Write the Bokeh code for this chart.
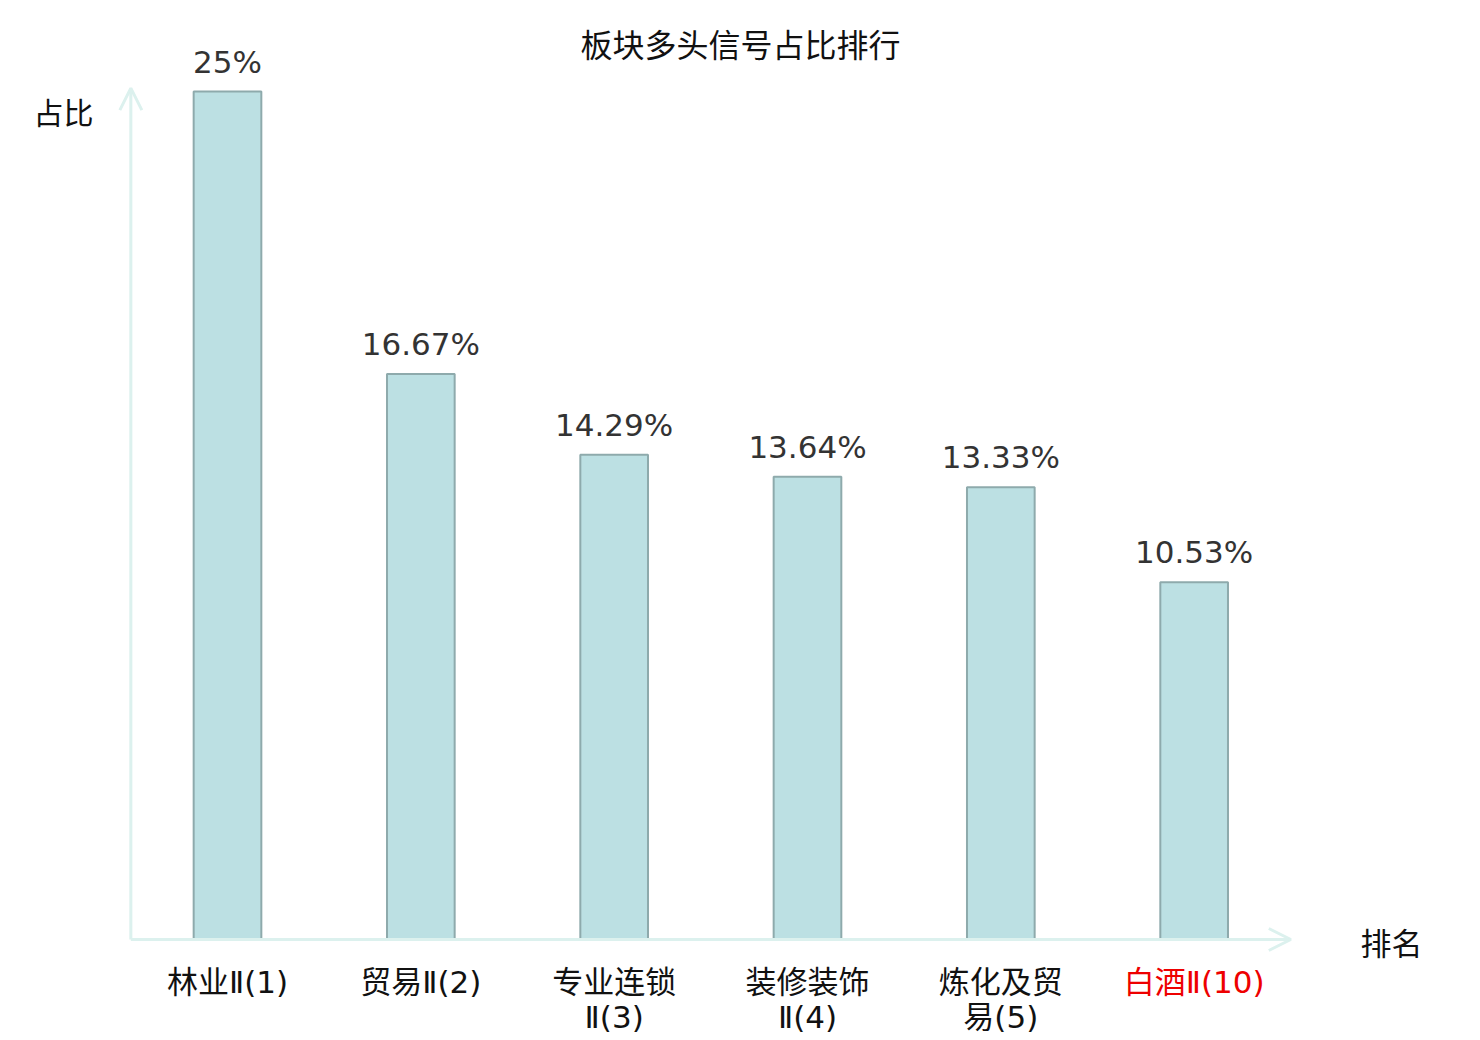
from bokeh.plotting import figure
from bokeh.models import Range1d, Arrow, OpenHead, ColumnDataSource
from bokeh.core.properties import value
from bokeh.embed import file_html
from bokeh.resources import INLINE

# ---- data ----
categories = ["林业Ⅱ(1)", "贸易Ⅱ(2)", "专业连锁\nⅡ(3)", "装修装饰\nⅡ(4)", "炼化及贸\n易(5)", "白酒Ⅱ(10)"]
values = [25.0, 16.67, 14.29, 13.64, 13.33, 10.53]
value_labels = ["25%", "16.67%", "14.29%", "13.64%", "13.33%", "10.53%"]
label_colors = ["#111111", "#111111", "#111111", "#111111", "#111111", "#ee0000"]
title_text = "板块多头信号占比排行"
y_name = "占比"
x_name = "排名"

# ---- layout (pixel geometry of the canvas) ----
W, H = 1480, 1040
px_x = 193.33            # pixels per category
px_y = 33.92             # pixels per percent
cx0, cy0 = 227.0, 939.0  # canvas position of category 0 / value 0
x0 = -cx0 / px_x
x1 = x0 + W / px_x
y1 = cy0 / px_y
y0 = y1 - H / px_y

def dx(px):
    return x0 + px / px_x

def dy(py):
    return y1 - py / px_y

p = figure(width=W, height=H, output_backend="svg", toolbar_location=None,
           x_range=Range1d(x0, x1), y_range=Range1d(y0, y1),
           min_border=0, min_border_left=0, min_border_right=0,
           min_border_top=0, min_border_bottom=0)
p.axis.visible = False
p.grid.visible = False
p.outline_line_color = None
p.background_fill_color = "white"
p.border_fill_color = "white"

idx = list(range(len(categories)))
src = ColumnDataSource(dict(x=idx, top=values, cat=categories, lab=value_labels,
                            col=label_colors,
                            ly=[v + 12.0 / px_y for v in values]))

axis_color = "#dcf1ee"
# axes with arrows
p.add_layout(Arrow(end=OpenHead(size=22, line_color=axis_color, line_width=3),
                   x_start=-0.5, y_start=0, x_end=-0.5, y_end=25.1,
                   line_color=axis_color, line_width=3))
p.add_layout(Arrow(end=OpenHead(size=22, line_color=axis_color, line_width=3),
                   x_start=-0.5, y_start=0, x_end=5.5, y_end=0,
                   line_color=axis_color, line_width=3))

p.vbar(x="x", top="top", bottom=0, width=0.35, source=src,
       fill_color="#bce0e3", line_color="#8eaaac", line_width=2)

# value labels
p.text(x="x", y="ly", text="lab", source=src, text_align="center",
       text_baseline="bottom", text_font=value("DejaVu Sans"),
       text_font_size="31px", text_color="#333333")

# category labels
p.text(x="x", y=dy(963), text="cat", source=src, text_align="center",
       text_baseline="top", text_font=value("DejaVu Sans, Noto Sans CJK SC"),
       text_font_size="31px", text_color="col", text_line_height=0.98)

# axis names
p.text(x=[dx(63)], y=[dy(110)], text=[y_name], text_align="center",
       text_baseline="middle", text_font=value("Noto Sans CJK SC"),
       text_font_size="30px", text_color="#111111")
p.text(x=[dx(1391)], y=[dy(941)], text=[x_name], text_align="center",
       text_baseline="middle", text_font=value("Noto Sans CJK SC"),
       text_font_size="31px", text_color="#111111")

# title
p.text(x=[dx(740)], y=[dy(42)], text=[title_text], text_align="center",
       text_baseline="middle", text_font=value("Noto Sans CJK SC"),
       text_font_size="32px", text_color="#111111")

open("out.html", "w").write(file_html(p, INLINE))
